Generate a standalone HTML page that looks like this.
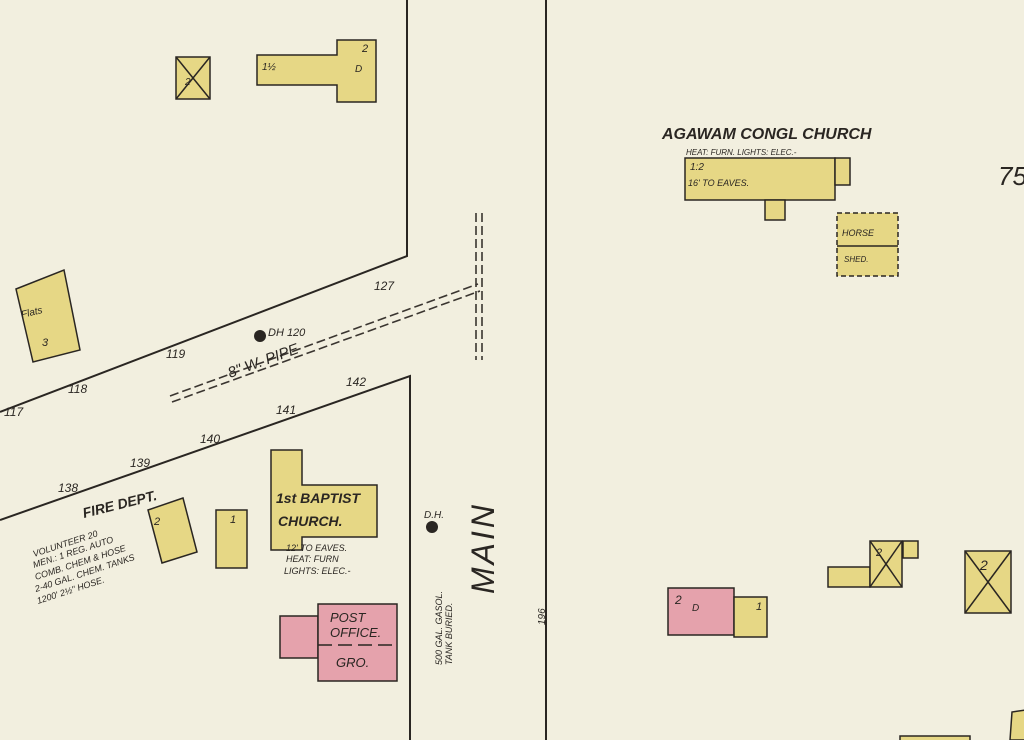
<!DOCTYPE html>
<html><head><meta charset="utf-8"><style>
html,body{margin:0;padding:0;background:#f2efdf;}
svg{display:block}
text{font-family:"Liberation Sans",sans-serif;font-style:italic;fill:#2a2622;}
</style></head><body>
<svg width="1024" height="740" viewBox="0 0 1024 740" xmlns="http://www.w3.org/2000/svg">
<rect width="1024" height="740" fill="#f2efdf"/>
<g stroke="#2a2622" stroke-width="2" fill="none">
<polyline points="407,0 407,256 0,412"/>
<polyline points="0,520 410,376 410,740"/>
<line x1="546" y1="0" x2="546" y2="740"/>
</g>
<g stroke="#3a3530" stroke-width="1.6" stroke-dasharray="9,4">
<line x1="170" y1="396" x2="478" y2="284"/>
<line x1="172" y1="402" x2="480" y2="291"/>
<line x1="476" y1="213" x2="476" y2="360"/>
<line x1="482" y1="213" x2="482" y2="360"/>
</g>
<g stroke="#2a2622" stroke-width="1.5">
<rect x="176" y="57" width="34" height="42" fill="#e6d785"/>
<line x1="176" y1="57" x2="210" y2="99"/><line x1="210" y1="57" x2="176" y2="99"/>
<polygon points="257,55 337,55 337,40 376,40 376,102 337,102 337,85 257,85" fill="#e6d785"/>
<polygon points="16,289 64,270 80,350 33,362" fill="#e6d785"/>
<rect x="685" y="158" width="150" height="42" fill="#e6d785"/>
<rect x="835" y="158" width="15" height="27" fill="#e6d785"/>
<rect x="765" y="200" width="20" height="20" fill="#e6d785"/>
<rect x="837" y="213" width="61" height="63" fill="#e6d785" stroke-dasharray="5,3"/>
<line x1="837" y1="246" x2="898" y2="246"/>
<polygon points="148,510 183,498 197,552 162,563" fill="#e6d785"/>
<rect x="216" y="510" width="31" height="58" fill="#e6d785"/>
<polygon points="271,450 302,450 302,485 377,485 377,537 302,537 302,550 271,550" fill="#e6d785"/>
<rect x="280" y="616" width="38" height="42" fill="#e5a2ac"/>
<rect x="318" y="604" width="79" height="77" fill="#e5a2ac"/>
<line x1="318" y1="645" x2="397" y2="645" stroke-dasharray="14,6"/>
<rect x="668" y="588" width="66" height="47" fill="#e5a2ac"/>
<rect x="734" y="597" width="33" height="40" fill="#e6d785"/>
<rect x="828" y="567" width="42" height="20" fill="#e6d785"/>
<rect x="870" y="541" width="32" height="46" fill="#e6d785"/>
<line x1="870" y1="541" x2="902" y2="587"/><line x1="902" y1="541" x2="870" y2="587"/>
<rect x="903" y="541" width="15" height="17" fill="#e6d785"/>
<rect x="965" y="551" width="46" height="62" fill="#e6d785"/>
<line x1="965" y1="551" x2="1011" y2="613"/><line x1="1011" y1="551" x2="965" y2="613"/>
<rect x="900" y="736" width="70" height="10" fill="#e6d785"/>
<polygon points="1010,740 1012,712 1026,710 1026,740" fill="#e6d785"/>
</g>
<circle cx="260" cy="336" r="6" fill="#2a2622"/>
<circle cx="432" cy="527" r="6" fill="#2a2622"/>
<text x="662" y="139" font-size="16" font-weight="bold">AGAWAM CONGL CHURCH</text>
<text x="686" y="155" font-size="8">HEAT: FURN. LIGHTS: ELEC.-</text>
<text x="688" y="186" font-size="9">16' TO EAVES.</text>
<text x="842" y="236" font-size="9">HORSE</text>
<text x="844" y="262" font-size="8">SHED.</text>
<text x="998" y="185" font-size="26" font-style="normal">75</text>
<text x="276" y="503" font-size="14" font-weight="bold">1st BAPTIST</text>
<text x="278" y="526" font-size="14" font-weight="bold">CHURCH.</text>
<text x="286" y="551" font-size="9">12' TO EAVES.</text>
<text x="286" y="562" font-size="9">HEAT: FURN</text>
<text x="284" y="574" font-size="9">LIGHTS: ELEC.-</text>
<text x="330" y="622" font-size="13">POST</text>
<text x="330" y="637" font-size="13">OFFICE.</text>
<text x="336" y="667" font-size="13">GRO.</text>
<text x="84" y="518" font-size="14" font-weight="bold" transform="rotate(-14 84 518)">FIRE DEPT.</text>
<g font-size="9">
<text x="34" y="557" transform="rotate(-18 34 557)">VOLUNTEER 20</text>
<text x="34" y="568" transform="rotate(-18 34 568)">MEN.: 1 REG. AUTO</text>
<text x="36" y="580" transform="rotate(-18 36 580)">COMB. CHEM &amp; HOSE</text>
<text x="36" y="592" transform="rotate(-18 36 592)">2-40 GAL. CHEM. TANKS</text>
<text x="38" y="604" transform="rotate(-18 38 604)">1200' 2½" HOSE.</text>
</g>
<text x="230" y="378" font-size="15" transform="rotate(-20 230 378)">8" W. PIPE</text>
<text x="268" y="336" font-size="11">DH 120</text>
<text x="424" y="518" font-size="10">D.H.</text>
<g font-size="12">
<text x="166" y="358">119</text><text x="68" y="393">118</text><text x="4" y="416">117</text>
<text x="374" y="290">127</text><text x="276" y="414">141</text><text x="200" y="443">140</text>
<text x="130" y="467">139</text><text x="58" y="492">138</text><text x="346" y="386">142</text>
</g>
<text x="0" y="0" font-size="32" font-style="normal" transform="translate(494 594) rotate(-90)" letter-spacing="3">MAIN</text>
<text x="0" y="0" font-size="10" transform="translate(545 625) rotate(-90)">196</text>
<text x="0" y="0" font-size="9" transform="translate(442 665) rotate(-90)">500 GAL. GASOL.</text>
<text x="0" y="0" font-size="9" transform="translate(452 665) rotate(-90)">TANK BURIED.</text>
<text x="22" y="318" font-size="10" transform="rotate(-14 22 318)">Flats</text>
<text x="42" y="346" font-size="11">3</text>
<text x="185" y="85" font-size="10">2</text>
<text x="362" y="52" font-size="11">2</text>
<text x="355" y="72" font-size="10">D</text>
<text x="262" y="70" font-size="10">1½</text>
<text x="154" y="525" font-size="11">2</text>
<text x="230" y="523" font-size="11">1</text>
<text x="675" y="604" font-size="12">2</text><text x="692" y="611" font-size="10">D</text>
<text x="756" y="610" font-size="11">1</text>
<text x="980" y="570" font-size="14">2</text>
<text x="876" y="556" font-size="11">2</text>
<text x="690" y="170" font-size="10">1:2</text>
</svg>
</body></html>
